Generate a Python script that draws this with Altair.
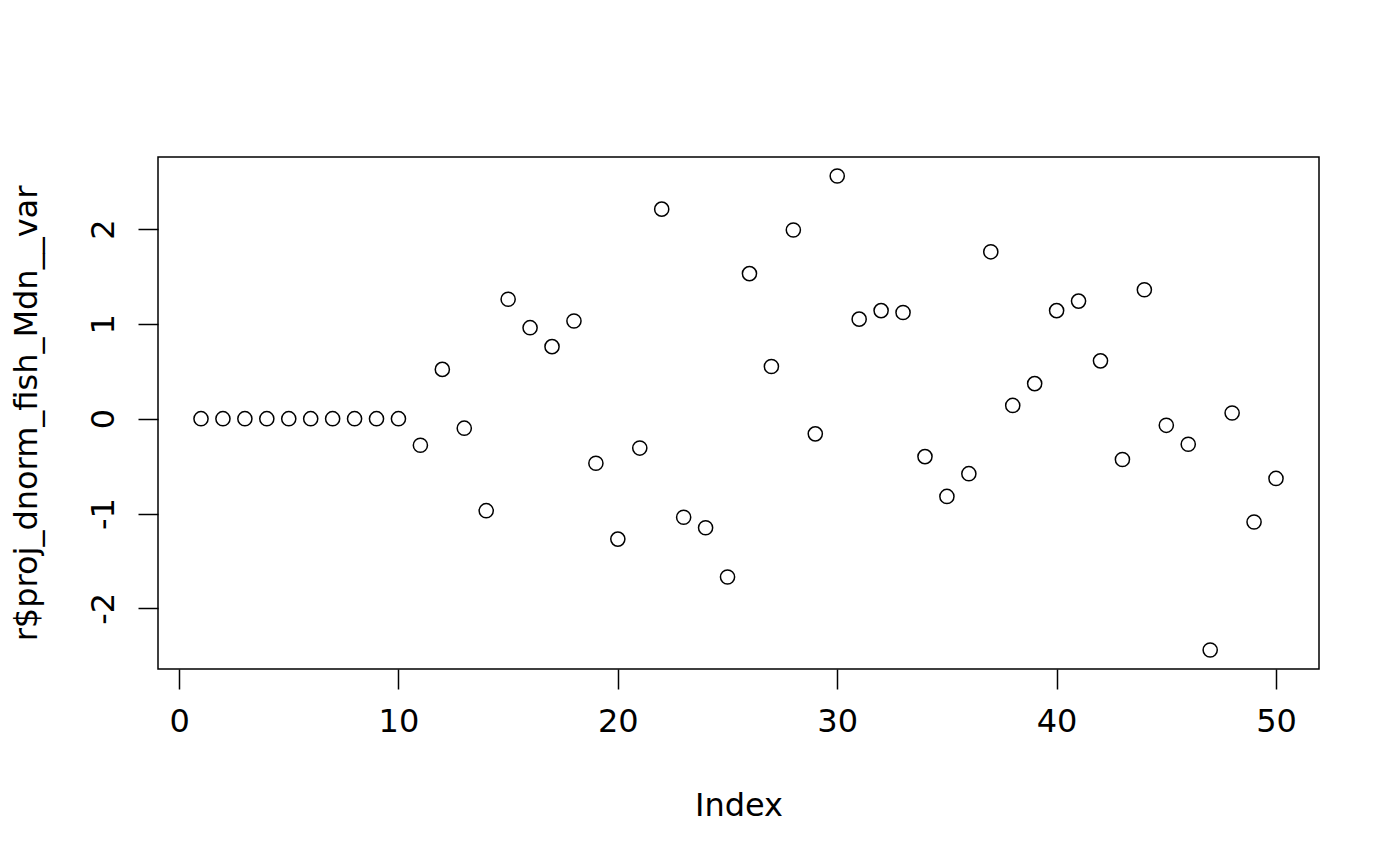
import altair as alt
import pandas as pd

index = list(range(1, 51))
values = [0, 0, 0, 0, 0, 0, 0, 0, 0, 0,
          -0.28, 0.52, -0.10, -0.97, 1.26, 0.96, 0.76, 1.03, -0.47, -1.27,
          -0.31, 2.21, -1.04, -1.15, -1.67, 1.53, 0.55, 1.99, -0.16, 2.56,
          1.05, 1.14, 1.12, -0.40, -0.82, -0.58, 1.76, 0.14, 0.37, 1.14,
          1.24, 0.61, -0.43, 1.36, -0.07, -0.27, -2.44, 0.06, -1.09, -0.63]
x_ticks = [0, 10, 20, 30, 40, 50]
y_ticks = [-2, -1, 0, 1, 2]

df = pd.DataFrame({"Index": index, "v": values})

xmin, xmax = min(index), max(index)
ymin, ymax = min(values), max(values)
xpad = (xmax - xmin) * 0.04
ypad = (ymax - ymin) * 0.04

FONT = "DejaVu Sans"
FS = 32

W, H = 1161, 512

chart = alt.Chart(df).mark_point(
    shape="circle", filled=False, color="black", size=200, strokeWidth=1.5, opacity=1
).encode(
    x=alt.X("Index:Q",
            scale=alt.Scale(domain=[xmin - xpad, xmax + xpad], nice=False, zero=False),
            axis=alt.Axis(values=x_ticks, title="Index", domain=False, grid=False,
                          tickSize=20, tickWidth=1.5, tickColor="black",
                          labelFont=FONT, labelFontSize=FS, labelColor="black",
                          labelPadding=17, labelFlush=False,
                          labelExpr="'' + datum.value",
                          titleFont=FONT, titleFontSize=FS, titleFontWeight="normal",
                          titleColor="black", titleX=W / 2, titleY=136,
                          titleBaseline="middle", titleAlign="center")),
    y=alt.Y("v:Q",
            scale=alt.Scale(domain=[ymin - ypad, ymax + ypad], nice=False, zero=False),
            axis=alt.Axis(values=y_ticks, title="r$proj_dnorm_fish_Mdn__var",
                          domain=False, grid=False,
                          tickSize=20, tickWidth=1.5, tickColor="black",
                          labelFont=FONT, labelFontSize=FS, labelColor="black",
                          labelAngle=-90, labelAlign="center", labelBaseline="alphabetic",
                          labelPadding=25, labelFlush=False,
                          labelExpr="'' + datum.value",
                          titleFont=FONT, titleFontSize=FS, titleFontWeight="normal",
                          titleColor="black", titleAngle=-90, titleX=-132, titleY=H / 2,
                          titleBaseline="middle", titleAlign="center")),
).properties(
    width=W, height=H,
    background="white",
    autosize=alt.AutoSizeParams(type="none"),
    padding={"left": 150, "top": 149, "right": 60, "bottom": 180},
).configure_view(
    stroke="black", strokeWidth=1.5, fill="white"
)

chart.save("out.html", embed_options={"renderer": "svg", "actions": False})
